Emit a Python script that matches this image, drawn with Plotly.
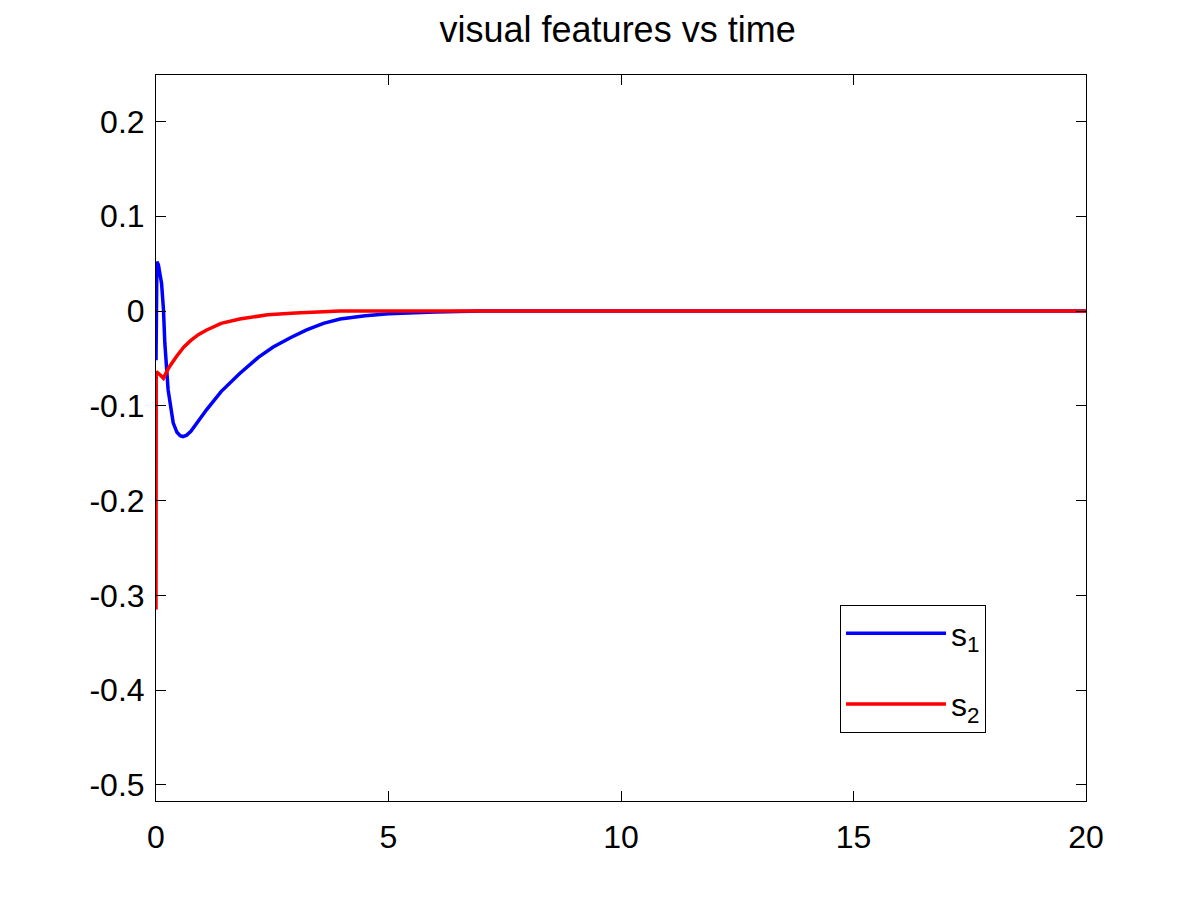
import plotly.graph_objects as go

# time samples
t1 = [0, 0.02, 0.05, 0.09, 0.12, 0.16, 0.19, 0.26, 0.32, 0.37, 0.45, 0.52, 0.58,
      0.66, 0.75, 0.9, 1.09, 1.4, 1.8, 2.2, 2.52, 2.9, 3.24, 3.6, 3.96, 4.5, 5,
      6, 7, 8, 20]
s1 = [-0.052, 0.052, 0.049, 0.040, 0.029, 0.002, -0.034, -0.083, -0.106, -0.118,
      -0.128, -0.1315, -0.1326, -0.131, -0.127, -0.117, -0.104, -0.085, -0.066,
      -0.049, -0.038, -0.028, -0.020, -0.013, -0.0085, -0.005, -0.003, -0.001,
      0, 0, 0]

t2 = [0, 0.005, 0.08, 0.16, 0.23, 0.3, 0.44, 0.6, 0.75, 0.91, 1.09, 1.4, 1.8, 2.4,
      3, 3.96, 5, 20]
s2 = [-0.315, -0.064, -0.067, -0.071, -0.064, -0.058, -0.048, -0.038, -0.031,
      -0.025, -0.020, -0.013, -0.0085, -0.004, -0.002, 0, 0, 0]

x_ticks = [0, 5, 10, 15, 20]
y_ticks = [-0.5, -0.4, -0.3, -0.2, -0.1, 0, 0.1, 0.2]
y_labels = ['-0.5', '-0.4', '-0.3', '-0.2', '-0.1', '0', '0.1', '0.2']

fig = go.Figure()
fig.add_trace(go.Scatter(x=t1, y=s1, mode='lines', name='s<sub>1</sub>',
                         line=dict(color='rgb(0,0,255)', width=3.5), legendgroup='a'))
fig.add_trace(go.Scatter(x=t2, y=s2, mode='lines', name='s<sub>2</sub>',
                         line=dict(color='rgb(255,0,0)', width=3.5), legendgroup='b'))

axis_style = dict(showline=True, linecolor='black', linewidth=1, mirror='ticks',
                  ticks='inside', ticklen=10, tickcolor='black', showgrid=False,
                  zeroline=False, tickfont=dict(size=32, color='black'))

# page body has an 8px margin, so the margins below are shifted by it
fig.update_layout(
    width=1200, height=900,
    paper_bgcolor='white', plot_bgcolor='white',
    font=dict(family='Liberation Sans, Arial, sans-serif', color='black'),
    title=dict(text='visual features vs time', x=0.508, xanchor='center',
               y=0.976, yanchor='middle', font=dict(size=36, color='black')),
    margin=dict(l=148, r=122, t=67, b=107),
    xaxis=dict(range=[0, 20], tickvals=x_ticks, ticklabelstandoff=8, **axis_style),
    yaxis=dict(range=[-0.517, 0.249], tickvals=y_ticks, ticktext=y_labels,
               ticklabelstandoff=4, **axis_style),
    showlegend=True,
    legend=dict(x=0.7355, y=0.27, xanchor='left', yanchor='top',
                bgcolor='white', bordercolor='black', borderwidth=1,
                font=dict(size=32, color='black'), tracegroupgap=26,
                itemwidth=100),
)

fig.write_html("out.html")
